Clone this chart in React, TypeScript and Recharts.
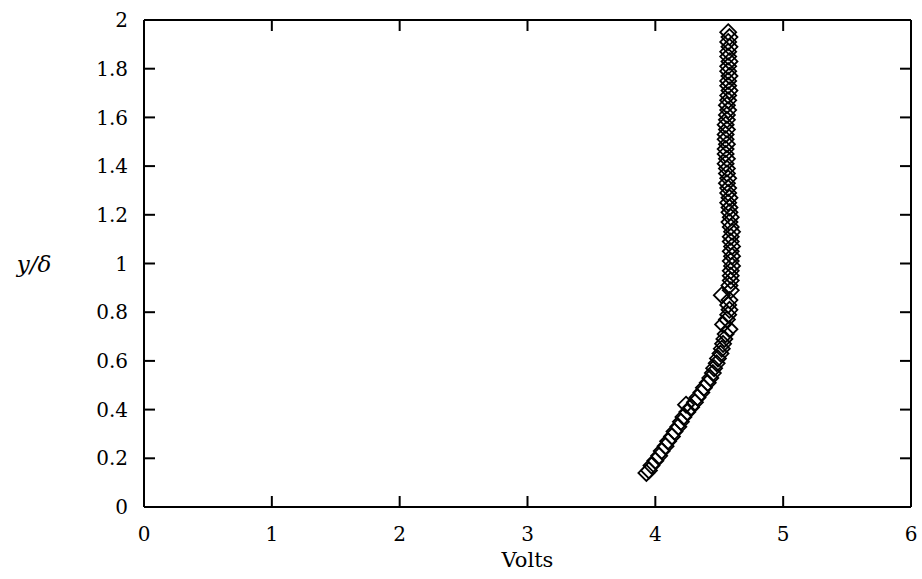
import React from 'react';
import { ScatterChart, Scatter, XAxis, YAxis } from 'recharts';

const xTicks = [0, 1, 2, 3, 4, 5, 6];
const yTicks = [0, 0.2, 0.4, 0.6, 0.8, 1, 1.2, 1.4, 1.6, 1.8, 2];

const volts = [
  3.93, 3.95, 3.97, 4.0, 4.03, 4.05, 4.08, 4.1, 4.13, 4.15, 4.18, 4.2, 4.22, 4.25, 4.24, 4.28,
  4.31, 4.33, 4.36, 4.38, 4.41, 4.43, 4.45, 4.46, 4.48, 4.49, 4.51, 4.52, 4.53, 4.54, 4.55,
  4.58, 4.53, 4.56, 4.57, 4.58, 4.57, 4.58, 4.52, 4.59, 4.58, 4.59, 4.59,
  4.59, 4.6, 4.59, 4.6, 4.59, 4.6, 4.59, 4.59, 4.6, 4.59, 4.58, 4.59, 4.58, 4.58, 4.57, 4.58,
  4.57, 4.57, 4.56, 4.57, 4.56, 4.56, 4.55, 4.56, 4.55, 4.55, 4.56, 4.55, 4.55, 4.56, 4.55,
  4.56, 4.56, 4.57, 4.56, 4.57, 4.57, 4.58, 4.57, 4.57, 4.58, 4.57, 4.57, 4.58, 4.57, 4.57,
  4.58, 4.57, 4.58, 4.57,
];
const yDelta = [
  0.14, 0.15, 0.17, 0.19, 0.21, 0.23, 0.25, 0.27, 0.29, 0.31, 0.33, 0.35, 0.37, 0.39, 0.42, 0.41,
  0.43, 0.45, 0.47, 0.49, 0.51, 0.53, 0.55, 0.57, 0.59, 0.61, 0.63, 0.65, 0.67, 0.69, 0.71,
  0.73, 0.75, 0.77, 0.79, 0.81, 0.83, 0.85, 0.87, 0.89, 0.91, 0.93, 0.95,
  0.97, 0.99, 1.01, 1.03, 1.05, 1.07, 1.09, 1.11, 1.13, 1.15, 1.17, 1.19, 1.21, 1.23, 1.25, 1.27,
  1.29, 1.31, 1.33, 1.35, 1.37, 1.39, 1.41, 1.43, 1.45, 1.47, 1.49, 1.51, 1.53, 1.55, 1.57,
  1.59, 1.61, 1.63, 1.65, 1.67, 1.69, 1.71, 1.73, 1.75, 1.77, 1.79, 1.81, 1.83, 1.85, 1.87,
  1.89, 1.91, 1.93, 1.95,
];

const data = volts.map((v, i) => ({ v, y: yDelta[i] }));

const FONT = 'DejaVu Serif';

const Diamond = (props: any) => {
  const { cx, cy } = props;
  if (cx == null || cy == null) return <g />;
  const r = 8;
  return (
    <path
      d={`M${cx},${cy - r}L${cx + r},${cy}L${cx},${cy + r}L${cx - r},${cy}Z`}
      fill="none"
      stroke="#000"
      strokeWidth={1.8}
    />
  );
};

const Empty = () => <g />;

export default function App() {
  return (
    <div style={{ position: 'absolute', left: 0, top: 0, background: '#fff' }}>
      <ScatterChart width={922} height={579} margin={{ top: 19, right: 10, bottom: 22, left: 84 }}>
        <XAxis
          xAxisId="b"
          dataKey="v"
          type="number"
          domain={[0, 6]}
          ticks={xTicks}
          interval={0}
          height={50}
          stroke="#000"
          strokeWidth={2}
          tickSize={-11}
          tickMargin={31}
          tick={{ fill: '#000', fontFamily: FONT, fontSize: 20 }}
          label={{ value: 'Volts', position: 'insideBottom', offset: -10, fill: '#000', fontFamily: FONT, fontSize: 21 }}
        />
        <XAxis
          xAxisId="t"
          orientation="top"
          dataKey="v"
          type="number"
          domain={[0, 6]}
          ticks={xTicks}
          interval={0}
          height={1}
          stroke="#000"
          strokeWidth={2}
          tickSize={-11}
          tickFormatter={() => ''}
        />
        <YAxis
          yAxisId="l"
          dataKey="y"
          type="number"
          domain={[0, 2]}
          ticks={yTicks}
          interval={0}
          width={60}
          stroke="#000"
          strokeWidth={2}
          tickSize={-11}
          tickMargin={27}
          tick={{ fill: '#000', fontFamily: FONT, fontSize: 20 }}
          label={(p: any) => {
            const vb = p.viewBox || {};
            return (
              <text
                x={(vb.x ?? 84) - 50}
                y={(vb.y ?? 20) + (vb.height ?? 487) / 2 + 8}
                textAnchor="middle"
                fontFamily={FONT}
                fontStyle="italic"
                fontSize={23}
                fill="#000"
              >
                y/δ
              </text>
            );
          }}
        />
        <YAxis
          yAxisId="r"
          orientation="right"
          dataKey="y"
          type="number"
          domain={[0, 2]}
          ticks={yTicks}
          interval={0}
          width={1}
          stroke="#000"
          strokeWidth={2}
          tickSize={-11}
          tickFormatter={() => ''}
        />
        <Scatter data={data} xAxisId="t" yAxisId="r" shape={Empty} isAnimationActive={false} />
        <Scatter data={data} xAxisId="b" yAxisId="l" shape={Diamond} isAnimationActive={false} />
      </ScatterChart>
    </div>
  );
}
